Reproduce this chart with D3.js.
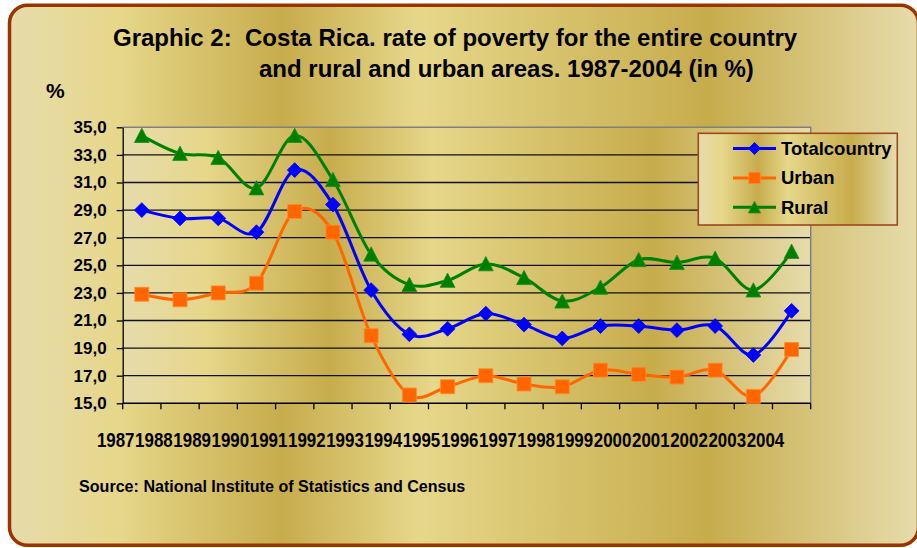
<!DOCTYPE html>
<html>
<head>
<meta charset="utf-8">
<script src="https://cdn.jsdelivr.net/npm/d3@7/dist/d3.min.js"></script>
<style>
  html, body { margin: 0; padding: 0; background: #ffffff; }
  svg { display: block; }
  text { font-family: "Liberation Sans", Arial, Helvetica, sans-serif; font-weight: bold; fill: #000; }
</style>
</head>
<body>
<div id="chart"></div>
<script>
// Poverty rate (% of households), Costa Rica 1987-2004
const years = ["1987","1988","1989","1990","1991","1992","1993","1994","1995",
               "1996","1997","1998","1999","2000","2001","2002","2003","2004"];
const totalCountry = [29.0, 28.4, 28.4, 27.4, 31.9, 29.4, 23.2, 20.0, 20.4,
                      21.5, 20.7, 19.7, 20.6, 20.6, 20.3, 20.6, 18.5, 21.7];
const urban = [22.9, 22.5, 23.0, 23.7, 28.9, 27.4, 19.9, 15.6, 16.2,
               17.0, 16.4, 16.2, 17.4, 17.1, 16.9, 17.4, 15.5, 18.9];
const rural = [34.4, 33.1, 32.8, 30.6, 34.4, 31.2, 25.8, 23.6, 23.9,
               25.1, 24.1, 22.4, 23.4, 25.4, 25.2, 25.5, 23.2, 26.0];
const yTicks = [15, 17, 19, 21, 23, 25, 27, 29, 31, 33, 35];
const seriesNames = ["Totalcountry", "Urban", "Rural"];

const W = 917, H = 548;
const plot = { left: 122.7, right: 810.7, top: 127.3, bottom: 403.3 };

const svg = d3.select("#chart").append("svg")
  .attr("width", W).attr("height", H);

// Excel-style "gold" fill, stretched across whichever box uses it
const defs = svg.append("defs");
const grad = defs.append("linearGradient").attr("id", "gold")
  .attr("x1", 0).attr("y1", 0).attr("x2", 1).attr("y2", 0);
[[0, "#E6DCAC"], [0.12, "#E6D78A"], [0.30, "#C7AC4C"], [0.45, "#E6D78A"],
 [0.77, "#C7AC4C"], [1, "#E6DCAC"]].forEach(([o, c]) =>
  grad.append("stop").attr("offset", o).attr("stop-color", c));

// outer frame (right edge runs just past the page)
svg.append("rect")
  .attr("x", 9.5).attr("y", 5.3).attr("width", 909).attr("height", 540)
  .attr("rx", 18).attr("ry", 18)
  .attr("fill", "url(#gold)").attr("stroke", "#993300").attr("stroke-width", 3.5);

// title
svg.append("text").attr("x", 113).attr("y", 45.5).attr("font-size", 24)
  .attr("xml:space", "preserve").style("white-space", "pre")
  .text("Graphic 2:  Costa Rica. rate of poverty for the entire country");
svg.append("text").attr("x", 259).attr("y", 76.5).attr("font-size", 24)
  .text("and rural and urban areas. 1987-2004 (in %)");

// unit label
svg.append("text").attr("x", 46).attr("y", 98).attr("font-size", 21).text("%");

// scales
const x = d3.scaleBand().domain(years).range([plot.left, plot.right]).padding(0);
const y = d3.scaleLinear().domain([15, 35]).range([plot.bottom, plot.top]);
const cx = d => x(d) + x.bandwidth() / 2;

// plot area
svg.append("rect")
  .attr("x", plot.left).attr("y", plot.top)
  .attr("width", plot.right - plot.left).attr("height", plot.bottom - plot.top)
  .attr("fill", "url(#gold)");

// horizontal gridlines
svg.append("g").selectAll("line")
  .data(yTicks.filter(t => t > 15 && t < 35)).join("line")
  .attr("x1", plot.left).attr("x2", plot.right)
  .attr("y1", d => y(d)).attr("y2", d => y(d))
  .attr("stroke", "#111").attr("stroke-width", 1.3);

// plot border (top / right)
svg.append("path")
  .attr("d", `M${plot.left},${y(35)}H${plot.right}V${plot.bottom}`)
  .attr("fill", "none").attr("stroke", "#808080").attr("stroke-width", 1.5);

// y axis
const fmt = d => d3.format(".1f")(d).replace(".", ",");
const yAxis = svg.append("g")
  .attr("transform", `translate(${plot.left},0)`)
  .call(d3.axisLeft(y).tickValues(yTicks).tickFormat(fmt).tickSize(6).tickPadding(10).tickSizeOuter(0));
yAxis.attr("font-family", null);
yAxis.select(".domain").attr("stroke", "#000").attr("stroke-width", 1.3);
yAxis.selectAll(".tick line").attr("stroke", "#000").attr("stroke-width", 1.3);
yAxis.selectAll(".tick text").attr("font-size", 17).attr("fill", "#000");

// x axis: baseline and category boundary ticks
const bounds = years.map(d => x(d)).concat([plot.right]);
svg.append("line")
  .attr("x1", plot.left).attr("x2", plot.right)
  .attr("y1", plot.bottom).attr("y2", plot.bottom)
  .attr("stroke", "#000").attr("stroke-width", 1.5);
svg.append("g").selectAll("line").data(bounds).join("line")
  .attr("x1", d => d).attr("x2", d => d)
  .attr("y1", plot.bottom).attr("y2", plot.bottom + 6)
  .attr("stroke", "#000").attr("stroke-width", 1.3);
// year labels sit just left of each category, packed edge to edge
svg.append("g").selectAll("text").data(years).join("text")
  .attr("x", d => x(d) - 7).attr("y", 446.5)
  .attr("text-anchor", "middle").attr("font-size", 19.5)
  .attr("textLength", x.bandwidth() - 0.6).attr("lengthAdjust", "spacingAndGlyphs")
  .text(d => d);

// source note
svg.append("text").attr("x", 79).attr("y", 491.5).attr("font-size", 16.1)
  .text("Source:  National Institute of Statistics and Census");

// marker shapes
const markerPath = {
  diamond: s => `M0,${-s}L${s},0L0,${s}L${-s},0Z`,
  square: s => `M${-s},${-s}H${s}V${s}H${-s}Z`,
  triangle: s => `M0,${-s}L${s},${s * 0.93}H${-s}Z`
};

const series = [
  { name: seriesNames[0], values: totalCountry, color: "#0000FF", edge: "#0000FF", shape: "diamond", size: 7.4 },
  { name: seriesNames[1], values: urban,        color: "#FF6600", edge: "#FF8A33", shape: "square",  size: 7.0 },
  { name: seriesNames[2], values: rural,        color: "#008000", edge: "#1E8A1E", shape: "triangle", size: 7.4 }
];

const line = d3.line()
  .x((d, i) => cx(years[i]))
  .y(d => y(d))
  .curve(d3.curveCatmullRom.alpha(0));

series.forEach(s => {
  const g = svg.append("g");
  g.append("path")
    .attr("d", line(s.values))
    .attr("fill", "none").attr("stroke", s.color).attr("stroke-width", 3)
    .attr("stroke-linejoin", "round");
  g.selectAll("path.m").data(s.values).join("path").attr("class", "m")
    .attr("transform", (d, i) => `translate(${cx(years[i])},${y(d)})`)
    .attr("d", markerPath[s.shape](s.size))
    .attr("fill", s.color).attr("stroke", s.edge).attr("stroke-width", 0.8);
});

// legend
const lg = svg.append("g");
lg.append("rect")
  .attr("x", 698.3).attr("y", 133.3).attr("width", 199).attr("height", 91.7)
  .attr("fill", "url(#gold)").attr("stroke", "#A0461E").attr("stroke-width", 1.6);
series.forEach((s, i) => {
  const yy = 148.5 + i * 29.4;
  lg.append("line").attr("x1", 733).attr("x2", 776).attr("y1", yy).attr("y2", yy)
    .attr("stroke", s.color).attr("stroke-width", 3);
  lg.append("path")
    .attr("transform", `translate(754.5,${yy})`)
    .attr("d", markerPath[s.shape](s.size * 0.82))
    .attr("fill", s.color).attr("stroke", s.edge).attr("stroke-width", 0.8);
  lg.append("text").attr("x", 781).attr("y", yy + 6.3).attr("font-size", 18.5).text(s.name);
});
</script>
</body>
</html>
